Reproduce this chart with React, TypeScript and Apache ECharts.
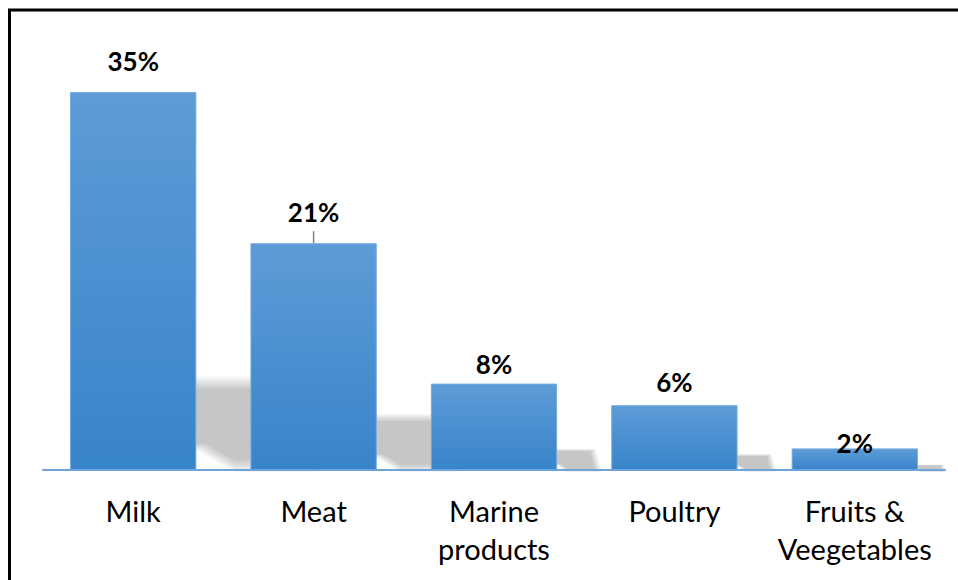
import React, { useEffect, useRef } from "react";
import * as echarts from "echarts";

const categories = ["Milk", "Meat", "Marine\nproducts", "Poultry", "Fruits &\nVeegetables"];
const shares = [35, 21, 8, 6, 2];
const labelDistances = [17, 17, 6, 9.5, -9];
const leaderLines = [false, true, false, false, false];

const FONT = "Lato, 'Open Sans', sans-serif";

export default function App() {
  const ref = useRef<HTMLDivElement>(null);
  useEffect(() => {
    document.body.style.margin = "0";
    const chart = echarts.init(ref.current!, null, { renderer: "svg" });
    const BAR_RATIO = 0.7;
    chart.setOption({
      animation: false,
      backgroundColor: "#ffffff",
      grid: { left: 43, right: 13, top: 38, bottom: 110, containLabel: false },
      graphic: [
        {
          type: "rect",
          shape: { x: 9.5, y: 10, width: 1200, height: 1200 },
          style: { fill: "none", stroke: "#000000", lineWidth: 3 },
          z: 100,
        },
      ],
      xAxis: {
        type: "category",
        data: categories,
        axisLine: { show: true, lineStyle: { color: "#6ea4dc", width: 2 } },
        axisTick: { show: false },
        axisLabel: {
          color: "#000000",
          fontFamily: FONT,
          fontSize: 29,
          lineHeight: 38,
          margin: 21,
          interval: 0,
        },
        splitLine: { show: false },
        z: 10,
      },
      yAxis: {
        type: "value",
        min: 0,
        max: 40,
        show: false,
        splitLine: { show: false },
      },
      series: [
        {
          type: "custom",
          z: 1,
          silent: true,
          data: shares.map((v, i) => [i, v]),
          encode: { x: 0, y: 1 },
          renderItem: (params: any, api: any) => {
            const i = api.value(0);
            const v = api.value(1);
            const base = api.coord([i, 0]);
            const top = api.coord([i, v]);
            const band = api.size([1, 0])[0];
            const w = band * BAR_RATIO;
            const h = base[1] - top[1];
            const x0 = base[0] - w / 2;
            const x1 = base[0] + w / 2;
            const y = base[1];
            const sh = h * 0.24;
            const lt = 22 + sh * 0.8;
            const lb = lt + sh * 0.3;
            const pts = [
              [x0 + 0.3 * w, y - sh * 1.03],
              [x1 + lt, y - sh * 1.03],
              [x1 + lb, y + 2],
              [x1 + sh * 0.42, y + 2],
              [x1, y - sh * 0.22],
              [x0 + 0.3 * w, y - sh * 0.22],
            ];
            const px = x1 + lt * 0.4;
            const py = y - sh * 0.5;
            const children: any[] = [];
            const layers = 6;
            for (let k = 0; k < layers; k++) {
              const s = 1 - k * 0.05;
              children.push({
                type: "polygon",
                shape: {
                  points: pts.map((p) => [px + (p[0] - px) * s, py + (p[1] - py) * s]),
                },
                style: { fill: "rgba(0,0,0,0.04)" },
              });
            }
            if (leaderLines[params.dataIndex]) {
              children.push({
                type: "line",
                shape: { x1: base[0], y1: top[1], x2: base[0], y2: top[1] - 12 },
                style: { stroke: "#808080", lineWidth: 1.5 },
                z2: 50,
              });
            }
            return { type: "group", children };
          },
        },
        {
          type: "bar",
          z: 2,
          barCategoryGap: "30%",
          data: shares.map((v, i) => ({
            value: v,
            label: { distance: labelDistances[i] },
          })),
          itemStyle: {
            color: new echarts.graphic.LinearGradient(0, 0, 0, 1, [
              { offset: 0, color: "#5d9cd6" },
              { offset: 1, color: "#3884ca" },
            ]),
            borderColor: "#74aadf",
            borderWidth: 1,
          },
          label: {
            show: true,
            position: "top",
            formatter: "{c}%",
            color: "#000000",
            fontFamily: FONT,
            fontWeight: "bold",
            fontSize: 26,
            lineHeight: 28,
          },
        },
      ],
    });
    return () => chart.dispose();
  }, []);
  return <div ref={ref} style={{ width: 958, height: 580 }} />;
}
